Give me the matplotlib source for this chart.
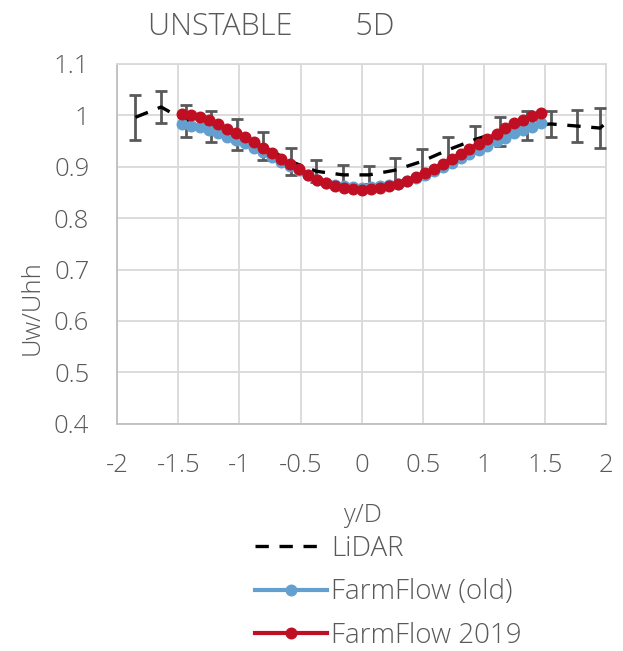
import matplotlib
matplotlib.use("Agg")
import matplotlib.pyplot as plt
from matplotlib import font_manager

# LiDAR measurements (mean and spread)
lidar_x = [-1.85, -1.64, -1.44, -1.23, -1.02, -0.81, -0.58, -0.37, -0.15, 0.06,
           0.27, 0.49, 0.71, 0.93, 1.13, 1.35, 1.55, 1.76, 1.95, 2.16]
lidar_y = [0.996, 1.016, 0.989, 0.978, 0.963, 0.940, 0.910, 0.891, 0.884, 0.884,
           0.893, 0.910, 0.933, 0.953, 0.968, 0.980, 0.983, 0.979, 0.975, 1.020]
lidar_err = [0.044, 0.032, 0.031, 0.030, 0.030, 0.028, 0.026, 0.021, 0.019, 0.018,
             0.023, 0.025, 0.025, 0.027, 0.028, 0.028, 0.025, 0.032, 0.039, 0.040]

# FarmFlow model profiles
model_x = [-1.470, -1.397, -1.323, -1.250, -1.176, -1.103, -1.029, -0.956, -0.882, -0.809,
           -0.735, -0.662, -0.588, -0.515, -0.441, -0.368, -0.294, -0.221, -0.147, -0.074,
           0.000, 0.074, 0.147, 0.221, 0.294, 0.368, 0.441, 0.515, 0.588, 0.662,
           0.735, 0.809, 0.882, 0.956, 1.029, 1.103, 1.176, 1.250, 1.323, 1.397, 1.470]
ff_2019 = [1.003, 1.000, 0.996, 0.990, 0.982, 0.973, 0.965, 0.958, 0.948, 0.937,
           0.927, 0.915, 0.905, 0.896, 0.884, 0.875, 0.868, 0.863, 0.859, 0.857,
           0.855, 0.857, 0.859, 0.862, 0.866, 0.872, 0.879, 0.887, 0.896, 0.906,
           0.915, 0.925, 0.935, 0.945, 0.954, 0.964, 0.976, 0.984, 0.991, 0.998, 1.004]
ff_old = [0.983, 0.980, 0.977, 0.972, 0.965, 0.958, 0.951, 0.946, 0.937, 0.928,
          0.919, 0.909, 0.901, 0.893, 0.883, 0.875, 0.869, 0.865, 0.862, 0.860,
          0.859, 0.860, 0.862, 0.864, 0.867, 0.872, 0.878, 0.884, 0.892, 0.900,
          0.907, 0.916, 0.924, 0.933, 0.940, 0.949, 0.956, 0.966, 0.972, 0.978, 0.984]

x_ticks = [-2, -1.5, -1, -0.5, 0, 0.5, 1, 1.5, 2]
x_tick_labels = ["-2", "-1.5", "-1", "-0.5", "0", "0.5", "1", "1.5", "2"]
y_ticks = [0.4, 0.5, 0.6, 0.7, 0.8, 0.9, 1.0, 1.1]
y_tick_labels = ["0.4", "0.5", "0.6", "0.7", "0.8", "0.9", "1", "1.1"]

# prefer a family that ships a light face
fonts = font_manager.fontManager.ttflist
family, weight = "DejaVu Sans", "normal"
for name in ["Open Sans", "Lato", "Roboto", "Noto Sans"]:
    faces = [f for f in fonts if f.name == name]
    if any(isinstance(f.weight, int) and f.weight <= 300 or f.weight in ("light", "extra light", "ultralight") for f in faces):
        family, weight = name, "light"
        break
else:
    for name in ["Open Sans", "Lato"]:
        if any(f.name == name for f in fonts):
            family = name
            break
plt.rcParams["font.family"] = [family, "DejaVu Sans"]
plt.rcParams["font.weight"] = weight
text_color = "#595959"
grid_color = "#D9D9D9"
fs = 18.5

fig = plt.figure(figsize=(6.23, 6.51), dpi=100)
ax = fig.add_axes([0.188, 0.349, 0.785, 0.553])

ax.errorbar(lidar_x, lidar_y, yerr=lidar_err, fmt="none", ecolor="#595959",
            elinewidth=2.0, capsize=4.5, capthick=2.0, zorder=3)
ax.plot(lidar_x, lidar_y, color="black", lw=2.4, dashes=(4, 3.2), zorder=4,
        label="LiDAR")
ax.plot(model_x, ff_old, color="#64A0CF", lw=3.0, marker="o", ms=7.6,
        zorder=5, label="FarmFlow (old)")
ax.plot(model_x, ff_2019, color="#C00F23", lw=3.0, marker="o", ms=7.6,
        zorder=6, label="FarmFlow 2019")

ax.set_xlim(-2, 2)
ax.set_ylim(0.4, 1.1)
ax.set_xticks(x_ticks)
ax.set_xticklabels(x_tick_labels)
ax.set_yticks(y_ticks)
ax.set_yticklabels(y_tick_labels)
ax.tick_params(axis="both", length=0, labelsize=fs, labelcolor=text_color)
ax.tick_params(axis="x", pad=21)
ax.tick_params(axis="y", pad=20)
ax.grid(True, color=grid_color, lw=1.3, zorder=0)
ax.set_axisbelow(True)
for side in ["left", "bottom", "top", "right"]:
    ax.spines[side].set_color(grid_color)
    ax.spines[side].set_linewidth(1.3)
ax.spines["left"].set_color("#BFBFBF")
ax.spines["bottom"].set_color("#BFBFBF")

fig.text(0.435, 0.958, "UNSTABLE        5D", ha="center", va="center",
         fontsize=22, color=text_color)
fig.text(0.582, 0.208, "y/D", ha="center", va="center",
         fontsize=fs, color=text_color)
fig.text(0.051, 0.527, "Uw/Uhh", ha="center", va="center", rotation=90,
         fontsize=fs, color=text_color)

leg = fig.legend(loc="upper left", bbox_to_anchor=(0.409, 0.178),
                 frameon=False, fontsize=20, handlelength=2.6,
                 handletextpad=0.15, labelspacing=0.55, borderaxespad=0,
                 borderpad=0, markerscale=1.0)
for t in leg.get_texts():
    t.set_color(text_color)

fig.savefig("out.png", dpi=100)
